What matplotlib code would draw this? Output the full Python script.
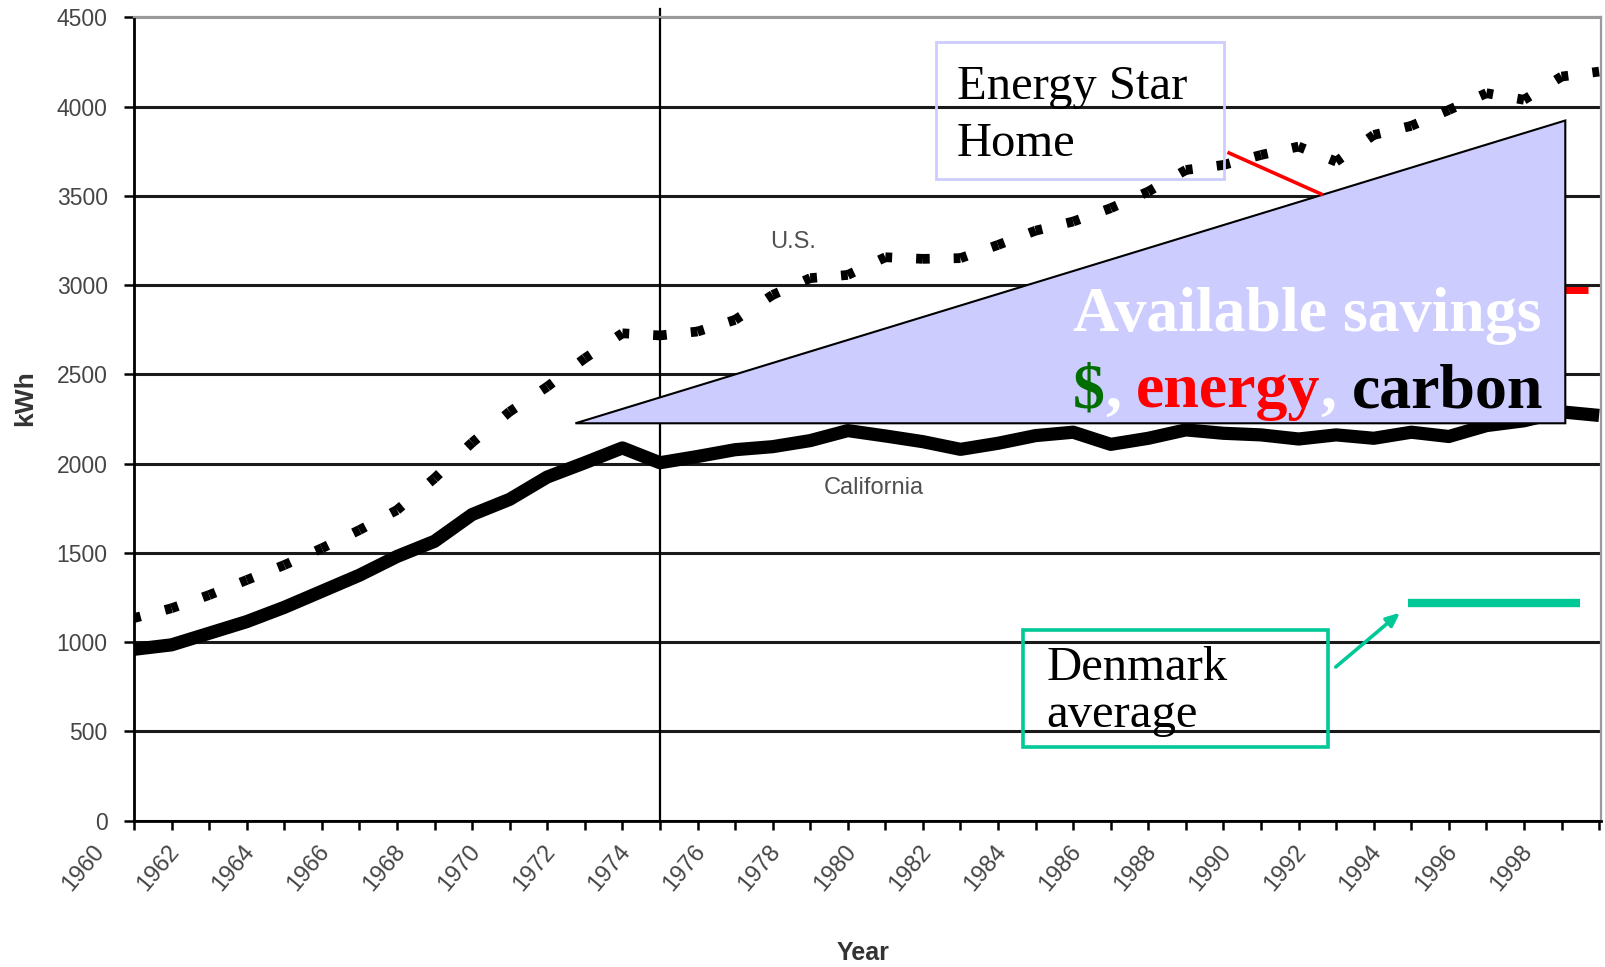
import matplotlib
matplotlib.use('Agg')
import matplotlib.pyplot as plt
from matplotlib.patches import Polygon, Rectangle
from matplotlib.ticker import FixedLocator
from matplotlib.transforms import ScaledTranslation

# Residential electricity use per capita, kWh
years = list(range(1960, 2000))
us_kwh = [1135, 1190, 1264, 1348, 1432, 1526, 1628, 1740, 1918, 2118,
          2291, 2431, 2590, 2730, 2718, 2740, 2805, 2945, 3039, 3057,
          3156, 3147, 3151, 3225, 3305, 3356, 3431, 3524, 3645, 3673,
          3729, 3776, 3692, 3841, 3892, 3981, 4075, 4038, 4168, 4196]
california_kwh = [960, 985, 1050, 1115, 1195, 1285, 1375, 1480, 1565, 1715,
                  1800, 1925, 2005, 2088, 2005, 2040, 2078, 2095, 2129, 2185,
                  2155, 2123, 2080, 2114, 2157, 2176, 2108, 2142, 2189, 2170,
                  2161, 2138, 2161, 2142, 2176, 2152, 2213, 2240, 2290, 2270]

label_years = list(range(1960, 2000, 2))
minor_years = list(range(1961, 2000, 2))
kwh_ticks = list(range(0, 5000, 500))

# slide overlays (data units)
marker_year = 1974
denmark_years = [1993.9, 1998.5]
denmark_kwh = [1220, 1220]
energy_star_years = [1995.0, 1998.7]
energy_star_kwh = [2970, 2970]
savings_years = [1971.75, 1998.1, 1998.1]
savings_kwh = [2226, 3922, 2226]

SERIF = ['Liberation Serif', 'DejaVu Serif']
SANS = ['Liberation Sans', 'DejaVu Sans']
TICK_GREY = '#454545'
LAVENDER = '#CCCCFF'
TEAL = '#00C896'

fig = plt.figure(figsize=(16.05, 9.67), dpi=100)
ax = fig.add_axes([0.0835, 0.1513, 0.9140, 0.8308])

ax.set_xlim(1960, 1999.05)
ax.set_ylim(0, 4500)

# axes / grid
ax.set_yticks(kwh_ticks)
ax.set_xticks(label_years)
ax.xaxis.set_minor_locator(FixedLocator(minor_years))
ax.grid(axis='y', color='#1a1a1a', lw=2.2, zorder=0.5)
ax.yaxis.get_gridlines()[-1].set_color('#9a9a9a')
ax.set_axisbelow(True)
for side in ('left', 'bottom'):
    ax.spines[side].set_color('black')
    ax.spines[side].set_linewidth(2)
for side in ('top', 'right'):
    ax.spines[side].set_color('#9a9a9a')
    ax.spines[side].set_linewidth(1.6)

ax.tick_params(axis='y', direction='out', length=7, width=1.8, pad=12,
               labelsize=16.5, labelcolor=TICK_GREY)
ax.tick_params(axis='x', which='both', direction='out', length=6.5, width=1.8)
ax.tick_params(axis='x', pad=8, labelsize=17, labelcolor=TICK_GREY,
               labelrotation=50)
for lbl in ax.get_yticklabels():
    lbl.set_family(SANS)
shift = ScaledTranslation(-0.25, 0, fig.dpi_scale_trans)
for lbl in ax.get_xticklabels():
    lbl.set_family(SANS)
    lbl.set_ha('right')
    lbl.set_transform(lbl.get_transform() + shift)

ax.axvline(marker_year, ymin=0, ymax=1.01, color='black', lw=1.6,
           clip_on=False, zorder=1)

# California - thick solid line
ax.plot(years, california_kwh, color='black', lw=9.5, solid_joinstyle='round',
        solid_capstyle='butt', zorder=3)

# U.S. - one short dash centred on every yearly point
for i in range(len(years) - 1):
    for a, b in ((i, i + 1), (i + 1, i)):
        ax.plot([years[a], years[b]], [us_kwh[a], us_kwh[b]], color='black',
                lw=7, linestyle=(0.7, (1.4, 40)), dash_capstyle='butt',
                zorder=3)

ax.text(1977.55, 3241, 'U.S.', family=SANS, fontsize=17, color='#505050',
        ha='center', va='center')
ax.text(1979.7, 1864, 'California', family=SANS, fontsize=17,
        color='#505050', ha='center', va='center')

# Energy Star level, mostly hidden behind the triangle
ax.plot(energy_star_years, energy_star_kwh, color='#FF0000', lw=5,
        solid_capstyle='butt', zorder=3)

# savings triangle
ax.add_patch(Polygon(list(zip(savings_years, savings_kwh)), closed=True,
                     facecolor=LAVENDER, edgecolor='black', lw=1.5, zorder=4))
ax.text(1985.0, 2743, 'Available savings', family=SERIF, fontsize=46,
        fontweight='bold', color='white', va='baseline', zorder=5)
pieces = [('$', '#006E00', 0), (',', 'white', 0), ('energy', '#FF0000', 11),
          (',', 'white', 0), ('carbon', 'black', 11)]
prev = ax.text(1985.0, 2316, pieces[0][0], family=SERIF, fontsize=46,
               fontweight='bold', color=pieces[0][1], va='baseline', zorder=5)
for txt, col, gap in pieces[1:]:
    prev = ax.annotate(txt, xy=(1, 0), xycoords=prev, xytext=(gap, 0),
                       textcoords='offset points', family=SERIF, fontsize=46,
                       fontweight='bold', color=col, va='bottom', ha='left',
                       zorder=5)

# Energy Star Home callout
ax.add_patch(Rectangle((1981.36, 3595), 7.66, 767, fill=False,
                       edgecolor=LAVENDER, lw=2, zorder=5))
ax.text(1981.91, 4045, 'Energy Star', family=SERIF, fontsize=35,
        va='baseline', zorder=6)
ax.text(1981.91, 3723, 'Home', family=SERIF, fontsize=35, va='baseline',
        zorder=6)
ax.plot([1989.15, 1991.6], [3740, 3510], color='#FF0000', lw=2.6, zorder=5)

# Denmark average callout
ax.plot(denmark_years, denmark_kwh, color=TEAL, lw=6, solid_capstyle='butt',
        zorder=5)
ax.add_patch(Rectangle((1983.67, 413), 8.11, 655, fill=False,
                       edgecolor=TEAL, lw=2.6, zorder=5))
ax.text(1984.28, 788, 'Denmark', family=SERIF, fontsize=35, va='baseline',
        zorder=6)
ax.text(1984.28, 525, 'average', family=SERIF, fontsize=35, va='baseline',
        zorder=6)
ax.annotate('', xy=(1993.7, 1165), xytext=(1991.99, 861),
            arrowprops=dict(arrowstyle='-|>,head_length=0.8,head_width=0.35',
                            color=TEAL, lw=2.6, shrinkA=0, shrinkB=0),
            zorder=5)

fig.text(25 / 1605, 1 - 398 / 967, 'kWh', family=SANS, fontsize=19,
         fontweight='bold', color='#333333', rotation=90,
         ha='center', va='center')
fig.text(863 / 1605, 1 - 953 / 967, 'Year', family=SANS, fontsize=18,
         fontweight='bold', color='#333333', ha='center', va='center')

fig.savefig('out.png', dpi=100)
